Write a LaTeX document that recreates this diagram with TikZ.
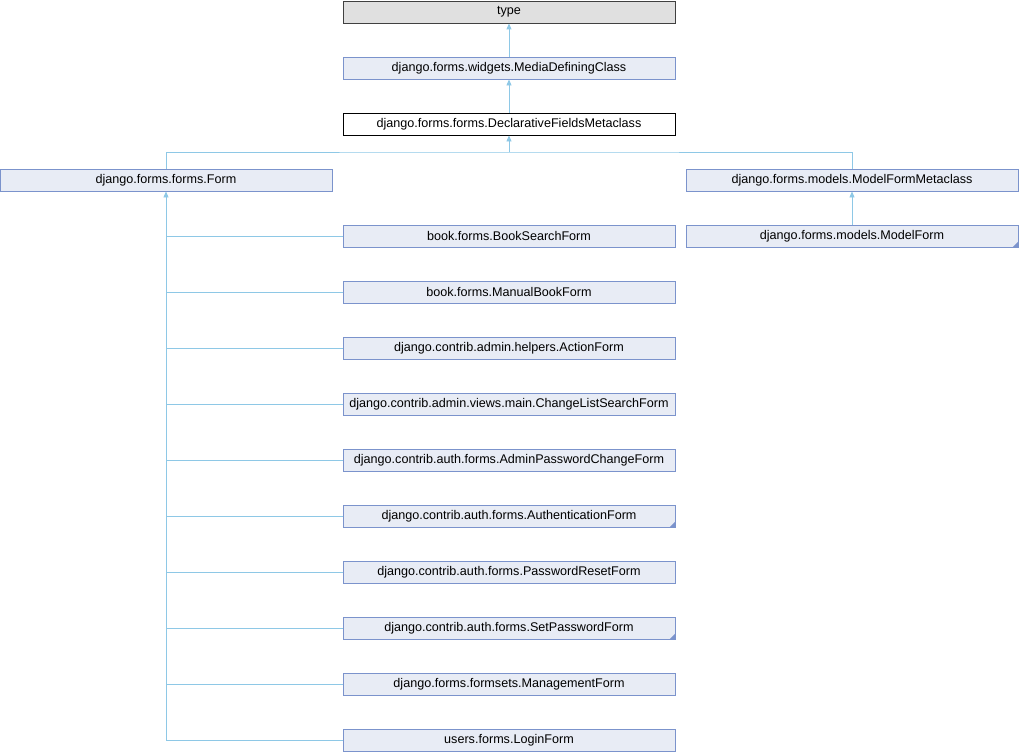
\documentclass[tikz,border=0pt]{standalone}
\usepackage{fontspec}
\setmainfont{Liberation Sans}
\usetikzlibrary{arrows.meta}
\definecolor{nodefill}{HTML}{E8ECF5}
\definecolor{nodeline}{HTML}{7B93CC}
\definecolor{edgeblue}{HTML}{8EC8E6}
\definecolor{extfill}{HTML}{E0E0E0}
\definecolor{extline}{HTML}{404040}
\tikzset{
  cls/.style={draw=nodeline, fill=nodefill, line width=0.9pt, minimum width=332pt,
    minimum height=22pt, inner sep=0pt, font=\fontsize{12.6}{14}\selectfont},
  extcls/.style={cls, draw=extline, fill=extfill},
  selfcls/.style={cls, draw=black, fill=white},
  inh/.style={draw=edgeblue, line width=0.9pt, -{Triangle[length=6pt,width=5pt]}},
  link/.style={draw=edgeblue, line width=0.9pt}
}
\begin{document}
\begin{tikzpicture}[x=1pt,y=-1pt]
\useasboundingbox (0,0) rectangle (1019,752);

\node[extcls]  (type)  at (509,12)  {type};
\node[cls]     (media) at (509,68)  {django.forms.widgets.MediaDefiningClass};
\node[selfcls] (decl)  at (509,124) {django.forms.forms.DeclarativeFieldsMetaclass};
\node[cls]     (form)  at (166,180) {django.forms.forms.Form};
\node[cls]     (mfmeta) at (852,180) {django.forms.models.ModelFormMetaclass};
\node[cls]     (mform) at (852,236) {django.forms.models.ModelForm};

\node[cls] (c1)  at (509,236) {book.forms.BookSearchForm};
\node[cls] (c2)  at (509,292) {book.forms.ManualBookForm};
\node[cls] (c3)  at (509,348) {django.contrib.admin.helpers.ActionForm};
\node[cls] (c4)  at (509,404) {django.contrib.admin.views.main.ChangeListSearchForm};
\node[cls] (c5)  at (509,460) {django.contrib.auth.forms.AdminPasswordChangeForm};
\node[cls] (c6)  at (509,516) {django.contrib.auth.forms.AuthenticationForm};
\node[cls] (c7)  at (509,572) {django.contrib.auth.forms.PasswordResetForm};
\node[cls] (c8)  at (509,628) {django.contrib.auth.forms.SetPasswordForm};
\node[cls] (c9)  at (509,684) {django.forms.formsets.ManagementForm};
\node[cls] (c10) at (509,740) {users.forms.LoginForm};

% markers for classes with further subclasses
\foreach \n in {mform,c6,c8}
  \fill[nodeline] (\n.south east) -- ++(-6pt,0pt) -- ++(6pt,6pt) -- cycle;

% inheritance edges
\draw[inh] (media) -- (type);
\draw[inh] (decl) -- (media);
\coordinate (split) at (509,152);
\draw[link] (form.north) |- (split) -| (mfmeta.north);
\draw[inh] (split) -- (decl.south);
\draw[inh] (mform) -- (mfmeta);

\coordinate (trunk) at (166,740);
\draw[link] (trunk) -- (166,200);
\draw[inh] (166,200) -- (form.south);
\foreach \c in {c1,c2,c3,c4,c5,c6,c7,c8,c9,c10}
  \draw[link] (\c.west) -- (\c.west -| form.south);
\end{tikzpicture}
\end{document}
